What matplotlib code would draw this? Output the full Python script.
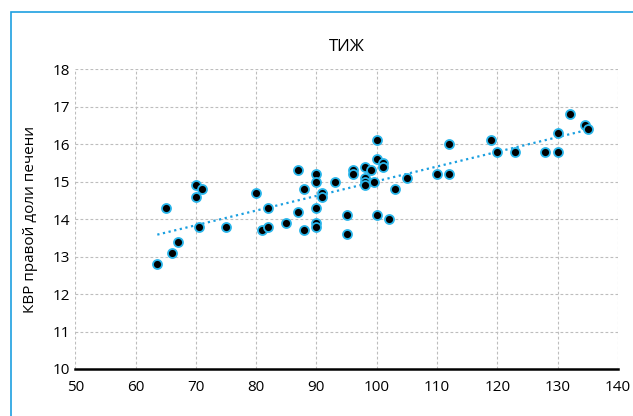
import numpy as np
import matplotlib.pyplot as plt
from matplotlib.patches import Rectangle

plt.rcParams['font.family'] = ['Open Sans', 'DejaVu Sans']

# данные: возраст / КВР
x_vals = [63.6, 66, 67, 65, 70, 71, 70, 70.5, 75,
          80, 82, 81, 82, 85, 87, 87, 88, 88, 90, 90, 90, 90, 90, 91, 91, 93, 95, 95,
          100, 96, 96, 98, 98, 98, 98, 99, 99.5, 100, 101, 101, 103, 105, 100, 102,
          110, 112, 112, 119, 120, 123, 128, 130, 130, 132, 134.5, 135]
y_vals = [12.8, 13.1, 13.4, 14.3, 14.9, 14.8, 14.6, 13.8, 13.8,
          14.7, 14.3, 13.7, 13.8, 13.9, 15.3, 14.2, 14.8, 13.7, 15.2, 15.0, 14.3, 13.9, 13.8, 14.7, 14.6, 15.0, 14.1, 13.6,
          16.1, 15.3, 15.2, 15.4, 15.1, 15.0, 14.9, 15.3, 15.0, 15.6, 15.5, 15.4, 14.8, 15.1, 14.1, 14.0,
          15.2, 15.2, 16.0, 16.1, 15.8, 15.8, 15.8, 15.8, 16.3, 16.8, 16.5, 16.4]
x_ticks = list(range(50, 141, 10))
y_ticks = list(range(10, 19))

fig = plt.figure(figsize=(6.33, 4.16), dpi=100)
ax = fig.add_axes([0.119, 0.113, 0.857, 0.721])

# тренд
k, b = np.polyfit(x_vals, y_vals, 1)
xt = np.array([min(x_vals), max(x_vals)])
ax.plot(xt, k * xt + b, color='#1a9fe0', lw=1.6, linestyle=(0, (1, 1.6)), zorder=2)

ax.scatter(x_vals, y_vals, s=42, c='black', edgecolors='#29b5ea', linewidths=1.3, zorder=3)

ax.set_xlim(50, 140)
ax.set_ylim(10, 18)
ax.set_xticks(x_ticks)
ax.set_yticks(y_ticks)
ax.grid(True, color='#bdbdbd', linestyle=(0, (2.5, 2)), lw=0.8)
ax.set_axisbelow(True)
for s in ['top', 'right', 'left']:
    ax.spines[s].set_visible(False)
ax.spines['bottom'].set_linewidth(1.8)
ax.spines['bottom'].set_zorder(4)
ax.tick_params(length=0, labelsize=11, pad=8)
ax.tick_params(axis='y', pad=4)

ax.set_title('ТИЖ', fontsize=12, pad=13)
ax.set_ylabel('КВР правой доли печени', fontsize=11, labelpad=10)

# рамка
fig.patches.append(Rectangle((11 / 633, -0.1), 1.2, 1.1 - 12 / 416, transform=fig.transFigure,
                             fill=False, edgecolor='#1ea0e0', lw=1.2))

fig.savefig('out.png', dpi=100)
